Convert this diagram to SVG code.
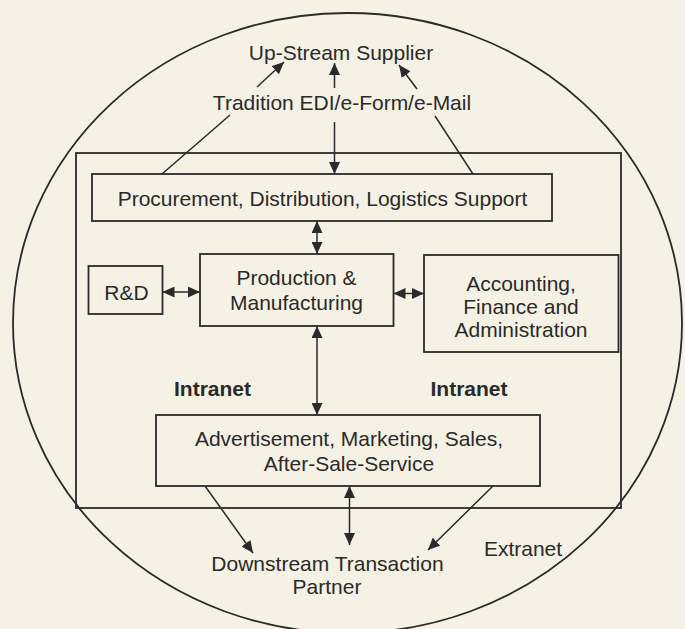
<svg xmlns="http://www.w3.org/2000/svg" width="685" height="629" viewBox="0 0 685 629">
  <style>
    .bg { fill: #f5f1e4; }
    .box { fill: none; stroke: #2a2a2a; stroke-width: 1.8; }
    .ln { fill: none; stroke: #2a2a2a; stroke-width: 1.5; }
    .t { font-family: "Liberation Sans", Arial, Helvetica, sans-serif; font-size: 21px; fill: #2a2a2a; text-anchor: middle; }
    .b { font-weight: bold; }
  </style>
  <defs>
    <marker id="ah" viewBox="0 0 12 11" refX="12" refY="5.5" markerWidth="12" markerHeight="11" markerUnits="userSpaceOnUse" orient="auto-start-reverse">
      <path d="M0,0 L12,5.5 L0,11 Z" fill="#2a2a2a"/>
    </marker>
  </defs>

  <rect class="bg" x="0" y="0" width="685" height="629"/>

  <g id="extranet-boundary">
    <ellipse class="box" cx="347.5" cy="323" rx="334.5" ry="310"/>
    <text class="t" x="523" y="556">Extranet</text>
  </g>

  <g id="intranet-boundary">
    <rect class="box" x="76" y="153" width="545" height="355"/>
    <text class="t b" x="212.5" y="396">Intranet</text>
    <text class="t b" x="469" y="396">Intranet</text>
  </g>

  <g id="upstream-supplier">
    <text class="t" x="341" y="59.5">Up-Stream Supplier</text>
  </g>

  <g id="edi-label">
    <text class="t" x="342" y="110">Tradition EDI/e-Form/e-Mail</text>
  </g>

  <g id="procurement">
    <rect class="box" x="92" y="174" width="460" height="47"/>
    <text class="t" x="322.5" y="206">Procurement, Distribution, Logistics Support</text>
  </g>

  <g id="rnd">
    <rect class="box" x="88.5" y="266" width="74" height="48"/>
    <text class="t" x="126.5" y="299.5">R&amp;D</text>
  </g>

  <g id="production">
    <rect class="box" x="200" y="254" width="193.5" height="72"/>
    <text class="t" x="296.5" y="285">Production &amp;</text>
    <text class="t" x="296.5" y="310">Manufacturing</text>
  </g>

  <g id="accounting">
    <rect class="box" x="424" y="255" width="194.5" height="97"/>
    <text class="t" x="521" y="291">Accounting,</text>
    <text class="t" x="521" y="314">Finance and</text>
    <text class="t" x="521" y="337">Administration</text>
  </g>

  <g id="advertisement">
    <rect class="box" x="156" y="415" width="384" height="71"/>
    <text class="t" x="349" y="446">Advertisement, Marketing, Sales,</text>
    <text class="t" x="349" y="471">After-Sale-Service</text>
  </g>

  <g id="downstream-partner">
    <text class="t" x="327.5" y="570.5">Downstream Transaction</text>
    <text class="t" x="327" y="593.5">Partner</text>
  </g>

  <g id="connectors">
    <line class="ln" x1="257" y1="87" x2="284" y2="62" marker-end="url(#ah)"/>
    <line class="ln" x1="334.5" y1="88" x2="334.5" y2="63" marker-end="url(#ah)"/>
    <line class="ln" x1="417" y1="89" x2="399" y2="65" marker-end="url(#ah)"/>
    <line class="ln" x1="334.5" y1="122" x2="334.5" y2="174" marker-end="url(#ah)"/>
    <line class="ln" x1="230" y1="115" x2="162" y2="174"/>
    <line class="ln" x1="435" y1="116" x2="473" y2="174"/>
    <line class="ln" x1="317" y1="221" x2="317" y2="254" marker-start="url(#ah)" marker-end="url(#ah)"/>
    <line class="ln" x1="162.5" y1="292" x2="200" y2="292" marker-start="url(#ah)" marker-end="url(#ah)"/>
    <line class="ln" x1="393.5" y1="293.5" x2="424" y2="293.5" marker-start="url(#ah)" marker-end="url(#ah)"/>
    <line class="ln" x1="317" y1="326" x2="317" y2="415" marker-start="url(#ah)" marker-end="url(#ah)"/>
    <line class="ln" x1="205" y1="486" x2="253" y2="553" marker-end="url(#ah)"/>
    <line class="ln" x1="349.5" y1="486" x2="349.5" y2="545" marker-start="url(#ah)" marker-end="url(#ah)"/>
    <line class="ln" x1="493" y1="486" x2="428" y2="550" marker-end="url(#ah)"/>
  </g>
</svg>
